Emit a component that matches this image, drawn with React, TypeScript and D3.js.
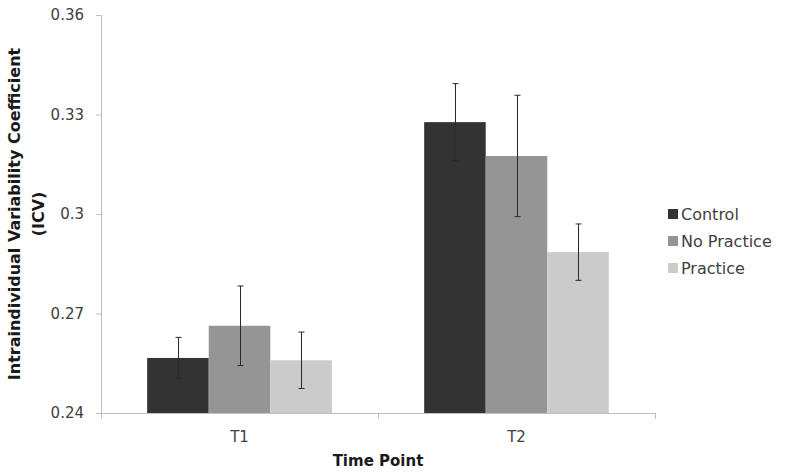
import { useEffect, useRef } from "react";
import * as d3 from "d3";

const categories = ["T1", "T2"];
const seriesNames = ["Control", "No Practice", "Practice"];
const controlValues = [0.2566, 0.3277];
const controlErrors = [0.0062, 0.0116];
const noPracticeValues = [0.2663, 0.3175];
const noPracticeErrors = [0.012, 0.0183];
const practiceValues = [0.2559, 0.2885];
const practiceErrors = [0.0085, 0.0085];
const yTicks = [0.24, 0.27, 0.3, 0.33, 0.36];

const colors = ["#333333", "#959595", "#cbcbcb"];

export default function App() {
  const ref = useRef<SVGSVGElement>(null);
  const width = 787;
  const height = 474;

  useEffect(() => {
    const svg = d3.select(ref.current);
    svg.selectAll("*").remove();

    const margin = { top: 15, right: 132, bottom: 61, left: 101 };
    const font = "'DejaVu Sans', sans-serif";

    const values = [controlValues, noPracticeValues, practiceValues];
    const errors = [controlErrors, noPracticeErrors, practiceErrors];
    const rows: { cat: string; series: string; value: number; err: number; i: number }[] = [];
    categories.forEach((cat, ci) => {
      seriesNames.forEach((s, si) => {
        rows.push({ cat, series: s, value: values[si][ci], err: errors[si][ci], i: si });
      });
    });

    const x0 = d3
      .scaleBand()
      .domain(categories)
      .range([margin.left, width - margin.right])
      .padding(0);

    const x1 = d3
      .scaleBand()
      .domain(seriesNames)
      .range([0, x0.bandwidth()])
      .paddingInner(0)
      .paddingOuter(0.75);

    const y = d3
      .scaleLinear()
      .domain([0.24, 0.36])
      .range([height - margin.bottom, margin.top]);

    const axisColor = "#bfbfbf";

    // y axis
    const yAxis = svg
      .append("g")
      .attr("transform", `translate(${margin.left},0)`)
      .call(
        d3
          .axisLeft(y)
          .tickValues(yTicks)
          .tickSize(5)
          .tickPadding(12)
          .tickFormat((d) => String(+d))
      );
    yAxis.select(".domain").attr("stroke", axisColor).attr("d", `M0.5,${y(0.24)}V${y(0.36)}`);
    yAxis.selectAll(".tick line").attr("stroke", axisColor);
    yAxis
      .selectAll(".tick text")
      .attr("fill", "#404040")
      .style("font-family", font)
      .style("font-size", "15px");

    // bars
    svg
      .append("g")
      .selectAll("rect")
      .data(rows)
      .join("rect")
      .attr("x", (d) => x0(d.cat)! + x1(d.series)!)
      .attr("y", (d) => y(d.value))
      .attr("width", x1.bandwidth())
      .attr("height", (d) => y(0.24) - y(d.value))
      .attr("fill", (d) => colors[d.i]);

    // x axis
    const xAxis = svg.append("g").attr("transform", `translate(0,${y(0.24)})`);
    xAxis
      .append("line")
      .attr("x1", margin.left)
      .attr("x2", width - margin.right)
      .attr("y1", 0.5)
      .attr("y2", 0.5)
      .attr("stroke", axisColor);
    const boundaries = [margin.left, ...categories.map((c) => x0(c)! + x0.bandwidth())];
    xAxis
      .selectAll("line.tk")
      .data(boundaries)
      .join("line")
      .attr("class", "tk")
      .attr("x1", (d) => d + 0.5)
      .attr("x2", (d) => d + 0.5)
      .attr("y1", 0)
      .attr("y2", 6)
      .attr("stroke", axisColor);
    xAxis
      .selectAll("text")
      .data(categories)
      .join("text")
      .attr("x", (d) => x0(d)! + x0.bandwidth() / 2)
      .attr("y", 29)
      .attr("text-anchor", "middle")
      .attr("fill", "#404040")
      .style("font-family", font)
      .style("font-size", "15px")
      .text((d) => d);

    // error bars
    const eb = svg.append("g").attr("stroke", "#2a2a2a").attr("stroke-width", 1);
    rows.forEach((d) => {
      const cx = Math.round(x0(d.cat)! + x1(d.series)! + x1.bandwidth() / 2) + 0.5;
      const top = y(d.value + d.err);
      const bot = y(d.value - d.err);
      eb.append("line").attr("x1", cx).attr("x2", cx).attr("y1", top).attr("y2", bot);
      eb.append("line").attr("x1", cx - 3).attr("x2", cx + 3).attr("y1", top).attr("y2", top);
      eb.append("line").attr("x1", cx - 3).attr("x2", cx + 3).attr("y1", bot).attr("y2", bot);
    });

    // axis titles
    svg
      .append("text")
      .attr("x", (margin.left + width - margin.right) / 2)
      .attr("y", 466)
      .attr("text-anchor", "middle")
      .attr("fill", "#1a1a1a")
      .style("font-family", font)
      .style("font-size", "15px")
      .style("font-weight", "bold")
      .text("Time Point");

    const yTitle = svg
      .append("text")
      .attr("transform", `translate(20,214) rotate(-90)`)
      .attr("text-anchor", "middle")
      .attr("fill", "#1a1a1a")
      .style("font-family", font)
      .style("font-size", "16px")
      .style("font-weight", "bold");
    yTitle.append("tspan").attr("x", 0).attr("y", 0).text("Intraindividual Variability Coefficient");
    yTitle.append("tspan").attr("x", 0).attr("y", 24).text("(ICV)");

    // legend
    const legend = svg
      .append("g")
      .selectAll("g")
      .data(seriesNames)
      .join("g")
      .attr("transform", (_, i) => `translate(668,${214 + i * 27})`);
    legend
      .append("rect")
      .attr("x", 0)
      .attr("y", -5)
      .attr("width", 10)
      .attr("height", 10)
      .attr("fill", (_, i) => colors[i]);
    legend
      .append("text")
      .attr("x", 13)
      .attr("y", 6)
      .attr("fill", "#404040")
      .style("font-family", font)
      .style("font-size", "16px")
      .text((d) => d);
  }, []);

  return (
    <svg
      ref={ref}
      width={width}
      height={height}
      style={{ position: "absolute", left: 0, top: 0, background: "#fff" }}
    ></svg>
  );
}
